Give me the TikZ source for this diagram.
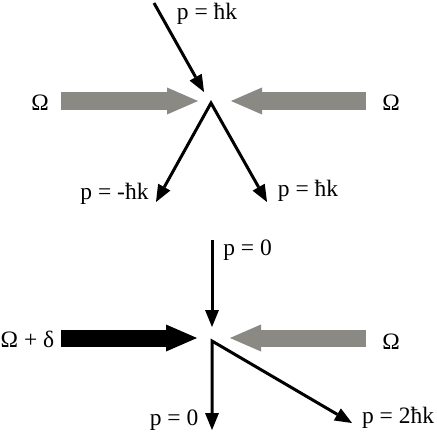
\documentclass[tikz,border=0pt]{standalone}
\usepackage{fontspec}
\setmainfont{Liberation Serif}
\usetikzlibrary{arrows.meta}
\definecolor{strahl}{RGB}{138,137,132}

\begin{document}
\begin{tikzpicture}[x=1pt, y=-1pt,
    impuls/.style={line width=3pt, line join=miter, -{Triangle[length=17pt, width=14pt, line width=0pt]}},
    laser/.style={line width=17pt, -{Triangle[length=31pt, width=27pt, line width=0pt]}},
    txt/.style={inner sep=0pt, font=\fontsize{23.5}{28}\selectfont}]

    \useasboundingbox (0,0) rectangle (436,441);

    % oben: resonant
    \coordinate (O1) at (211,103);
    \coordinate (in1) at (154,3);
    \coordinate (hit1) at (204,92);
    \coordinate (outL) at (156,202);
    \coordinate (outR) at (267,202);
    \coordinate (lasL1) at (61,101);
    \coordinate (tipL1) at (198,101);
    \coordinate (lasR1) at (366,101);
    \coordinate (tipR1) at (231,101);

    \node[txt] (pin1) at (207,13.5) {p = ħk};
    \node[txt] (omL1) at (40,102.5) {Ω};
    \node[txt] (omR1) at (391,102.5) {Ω};
    \node[txt] (pL) at (114.5,193.5) {p = -ħk};
    \node[txt] (pR) at (308,191) {p = ħk};

    \draw[laser, strahl] (lasL1) -- (tipL1);
    \draw[laser, strahl] (lasR1) -- (tipR1);
    \draw[impuls] (in1) -- (hit1);
    \draw[impuls, {Triangle[length=17pt, width=14pt, line width=0pt]}-{Triangle[length=17pt, width=14pt, line width=0pt]}] (outL) -- (O1) -- (outR);

    % unten: verstimmt
    \coordinate (O2) at (212,341);
    \coordinate (in2) at (212,240);
    \coordinate (hit2) at (212,327);
    \coordinate (down) at (212,430);
    \coordinate (diag) at (352,423);
    \coordinate (lasL2) at (61,338);
    \coordinate (tipL2) at (197,338);
    \coordinate (lasR2) at (366,338);
    \coordinate (tipR2) at (230,338);

    \node[txt] (pin2) at (247.5,250.5) {p = 0};
    \node[txt] (omL2) at (27.5,339.5) {Ω + δ};
    \node[txt] (omR2) at (391,341.5) {Ω};
    \node[txt] (pD) at (174,420.5) {p = 0};
    \node[txt] (p2) at (398,418) {p = 2ħk};

    \draw[laser, black] (lasL2) -- (tipL2);
    \draw[laser, strahl] (lasR2) -- (tipR2);
    \draw[impuls] (in2) -- (hit2);
    \draw[impuls, {Triangle[length=17pt, width=14pt, line width=0pt]}-{Triangle[length=17pt, width=14pt, line width=0pt]}] (down) -- (O2) -- (diag);

\end{tikzpicture}
\end{document}
